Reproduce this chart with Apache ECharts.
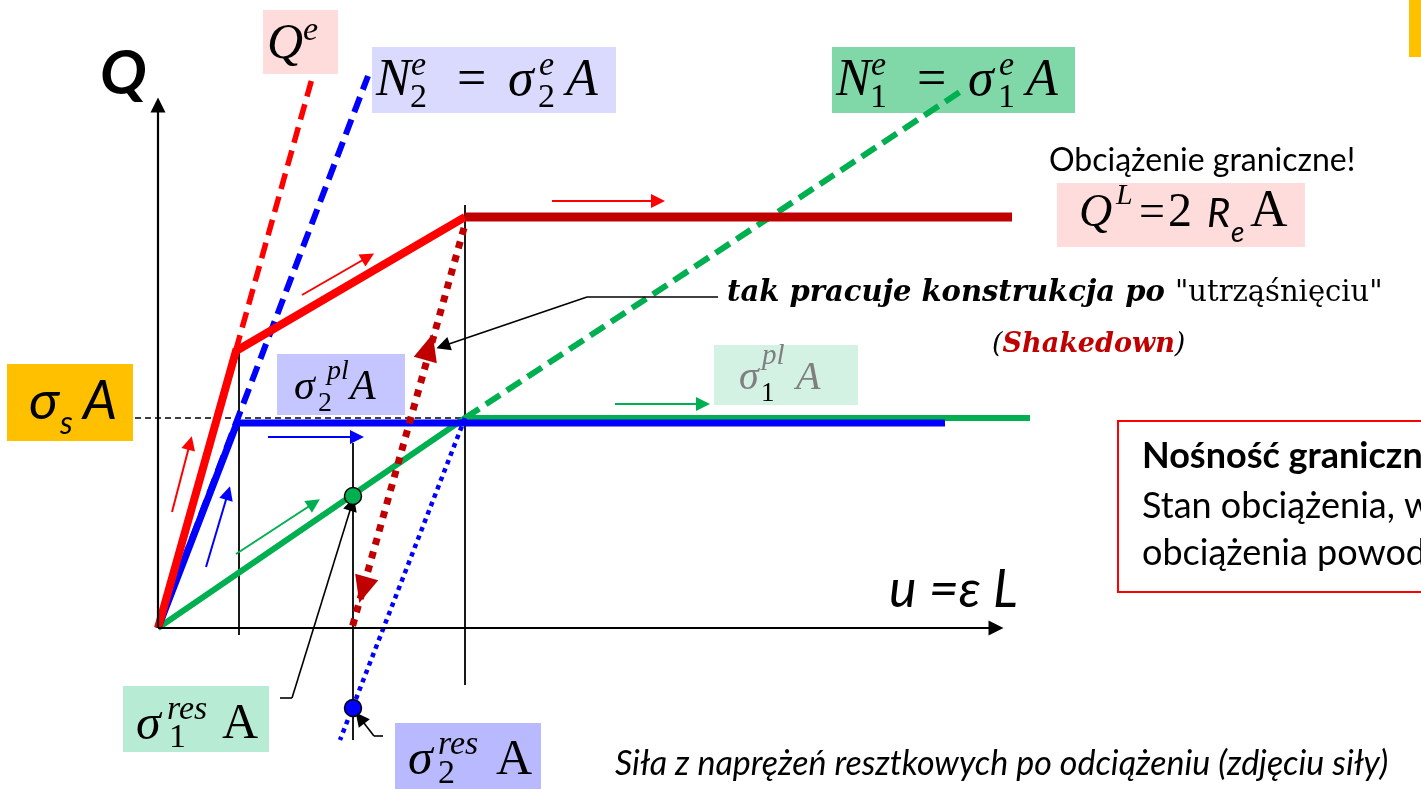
<!DOCTYPE html>
<html><head><meta charset="utf-8">
<script src="https://cdn.jsdelivr.net/npm/echarts@6/dist/echarts.min.js"></script>
<style>html,body{margin:0;padding:0;background:#fff}#c{width:1421px;height:789px}</style>
</head><body><div id="c"></div>
<script>
// ---- data, in diagram units (u to the right, Q upwards, origin at axes crossing) ----
const redLoading   = [[0,0],[78,277],[307,411]];        // Q(u), both bars elastic then bar 2 plastic
const redLimit     = [[307,411],[854,411]];             // limit load Q^L
const blueBar2     = [[0,0],[79,205],[787,205]];        // N2
const greenBar1    = [[0,0],[307,210],[872,210]];       // N1
const redElastic   = [[0,0],[155,553]];                 // Q^e
const blueElastic  = [[0,0],[210,552]];                 // N2^e
const greenElastic = [[307,210],[808,540]];             // N1^e
const blueUnload   = [[307,210],[182,-112]];
const redUnload    = [[306,400],[194,0]];
const yieldLevel   = [[-23,210],[307,210]];             // sigma_s A
const guides       = [[[81,293],[81,-7]], [[307,423],[307,-57]], [[195,185],[195,-112]]];
const residualN1   = [195,132];
const residualN2   = [195,-80];
const axisQ        = [[0,0],[0,523]];
const axisU        = [[0,0],[838,0]];
const redArrows    = [[[14,116],[32,185]], [[144,333],[210,371]], [[394,427],[500,427]]];
const blueArrows   = [[[48,61],[70,135]], [[110,191],[199,191]]];
const greenArrows  = [[[78,74],[156,125]], [[457,224],[545,224]]];
const unloadHeads  = [[205,38,164],[271,281,-16]];      // [u, Q, direction deg]
const leaderPaths  = [[[560,331],[429,331]], [[122,-70],[134,-70]], [[225,-108],[216,-108]]];
const leaderHeads  = [[[429,331],[285,282]], [[134,-70],[194,124]], [[216,-108],[202,-90]]];

const SERIF = '"Liberation Serif","DejaVu Serif",serif';
const DSERIF = '"DejaVu Serif","Liberation Serif",serif';
const SANS = 'Lato,"Noto Sans","DejaVu Sans",sans-serif';

const chart = echarts.init(document.getElementById('c'), null, {renderer:'canvas', width:1421, height:789});

function path(data, color, width, type, z) {
  return {type:'line', data, showSymbol:false, symbol:'none', clip:false, silent:true, z, animation:false,
    lineStyle:{color, width, type:type||'solid', cap:'butt', join:'miter'}};
}
function arrows(segs, color, width, size, z) {
  return {type:'lines', coordinateSystem:'cartesian2d', z, silent:true, animation:false,
    symbol:['none','triangle'], symbolSize:size,
    lineStyle:{color, width, opacity:1, curveness:0}, data:segs.map(c=>({coords:c}))};
}
function txt(x, base, text, size, family, o) {
  o = o || {};
  const k = family === SANS ? 0.39 : 0.34;
  return {type:'text', x, y: base - k*size, z:10, silent:true,
    style:{text, fontSize:size, fontFamily:family, fontStyle:o.i?'italic':'normal',
      fontWeight:o.b?'bold':'normal', fill:o.c||'#000', verticalAlign:'middle', align:'left'}};
}
function box(x,y,w,h,fill) {
  return {type:'rect', z:1, silent:true, shape:{x,y,width:w,height:h}, style:{fill}};
}
function nLabel(dx, idx) {
  return [
    txt(376+dx, 99, 'N', 52, SERIF, {i:1}),
    txt(411+dx, 78, 'e', 34, SERIF, {i:1}),
    txt(410+dx, 110, idx, 34, SERIF),
    txt(457+dx, 99, '=', 52, SERIF),
    txt(508+dx, 99, 'σ', 52, SERIF, {i:1}),
    txt(539+dx, 78, 'e', 34, SERIF, {i:1}),
    txt(538+dx, 110, idx, 34, SERIF),
    txt(566+dx, 99, 'A', 52, SERIF, {i:1})
  ];
}

const graphic = [
  box(263,10,75,64,'#FFDCDC'),
  box(372,47,244,66,'#DADAFF'),
  box(832,47,243,66,'#80D8A8'),
  box(1057,183,248,64,'#FFDCDC'),
  box(7,364,126,77,'#FFC000'),
  box(277,354,128,61,'#C5C5FF'),
  box(714,345,144,60,'#D4F2E3'),
  box(123,686,146,66,'#B8EBD4'),
  box(395,723,146,66,'#B9B9FF'),
  box(1409,0,12,57,'#FFC000'),
  {type:'rect', z:1, silent:true, shape:{x:1118,y:421,width:420,height:171}, style:{fill:'none', stroke:'#FF0000', lineWidth:2}},
  // axis names
  txt(100, 98, 'Q', 62, SANS, {i:1,b:1}),
  txt(889, 611, 'u =ε L', 52, SANS, {i:1}),
  // Q^e
  txt(267, 62, 'Q', 50, SERIF, {i:1}),
  txt(303, 43, 'e', 34, SERIF, {i:1}),
  ...nLabel(0,'2'),
  ...nLabel(460,'1'),
  // sigma_s A
  txt(29, 423, 'σ', 54, SANS, {i:1}),
  txt(60, 436, 's', 32, SANS, {i:1}),
  txt(83, 423, 'A', 54, SANS, {i:1}),
  // sigma_2^pl A
  txt(294, 402, 'σ', 42, SERIF, {i:1}),
  txt(327, 381, 'pl', 28, SERIF, {i:1}),
  txt(318, 413, '2', 28, SERIF),
  txt(350, 402, 'A', 42, SERIF, {i:1}),
  // sigma_1^pl A (faded)
  txt(739, 392, 'σ', 40, SERIF, {i:1, c:'#7f7f7f'}),
  txt(762, 366, 'pl', 29, SERIF, {i:1, c:'#7f7f7f'}),
  txt(761, 403, '1', 27, SERIF),
  txt(796, 392, 'A', 40, SERIF, {i:1, c:'#7f7f7f'}),
  // sigma_1^res A
  txt(136, 743, 'σ', 50, SERIF, {i:1}),
  txt(167, 722, 'res', 34, SERIF, {i:1}),
  txt(169, 750, '1', 34, SERIF),
  txt(222, 742, 'A', 50, SERIF),
  // sigma_2^res A
  txt(408, 778, 'σ', 50, SERIF, {i:1}),
  txt(438, 757, 'res', 34, SERIF, {i:1}),
  txt(438, 786, '2', 34, SERIF),
  txt(496, 778, 'A', 50, SERIF),
  // Q^L = 2 R_e A
  txt(1049, 173, 'Obciążenie graniczne!', 32, SANS),
  txt(1079, 230, 'Q', 46, SERIF, {i:1}),
  txt(1116, 206, 'L', 30, SERIF, {i:1}),
  txt(1139, 230, '=', 46, SERIF),
  txt(1168, 230, '2', 48, SERIF),
  txt(1207, 230, 'R', 40, SANS, {i:1}),
  txt(1231, 244, 'e', 28, SANS, {i:1}),
  txt(1250, 230, 'A', 52, SERIF),
  // shakedown text
  {type:'text', x:727, y:304-0.346*29, z:10, silent:true, style:{
    text:'{b|tak pracuje konstrukcja po }{r|"utrząśnięciu"}', verticalAlign:'middle', align:'left',
    rich:{b:{fontFamily:DSERIF, fontSize:29, fontStyle:'italic', fontWeight:'bold', fill:'#000'},
          r:{fontFamily:DSERIF, fontSize:29, fill:'#000'}}}},
  {type:'text', x:992, y:354-0.346*27, z:10, silent:true, style:{
    text:'{p|(}{s|Shakedown}{p|)}', verticalAlign:'middle', align:'left',
    rich:{p:{fontFamily:DSERIF, fontSize:27, fontStyle:'italic', fill:'#000'},
          s:{fontFamily:DSERIF, fontSize:27, fontStyle:'italic', fontWeight:'bold', fill:'#C00000'}}}},
  // limit capacity box
  txt(1142, 470, 'Nośność graniczna', 36, SANS, {b:1}),
  txt(1142, 520, 'Stan obciążenia, w którym przyrost', 36, SANS),
  txt(1142, 567, 'obciążenia powoduje nieograniczony', 36, SANS),
  txt(615, 777, 'Siła z naprężeń resztkowych po odciążeniu (zdjęciu siły)', 34, SANS, {i:1})
];

const series = [
  path(guides[0], '#000', 1.8, 'solid', 2),
  path(guides[1], '#000', 1.8, 'solid', 2),
  path(guides[2], '#000', 1.8, 'solid', 2),
  path(yieldLevel, '#000', 1.6, [6,4], 2),
  path(blueElastic, '#0000FF', 6, [16,8], 3),
  path(redElastic, '#FF0000', 5.5, [16,8], 3),
  path(greenElastic, '#00B050', 6, [17,8], 3),
  path(greenBar1, '#00B050', 6, 'solid', 4),
  path(blueBar2, '#0000FF', 7, 'solid', 4),
  path(redLoading, '#FF0000', 8, 'solid', 5),
  path(redLimit, '#C00000', 9, 'solid', 5),
  path(blueUnload, '#0000FF', 4.5, [4.5,4.5], 6),
  path(redUnload, '#C00000', 7, [7,7], 6),
  arrows([axisQ, axisU], '#000', 2.2, [0,15], 7),
  arrows(redArrows, '#FF0000', 2, [0,14], 7),
  arrows(blueArrows, '#0000FF', 2, [0,14], 7),
  arrows(greenArrows, '#00B050', 2, [0,14], 7),
  path(leaderPaths[0], '#000', 1.6, 'solid', 7),
  path(leaderPaths[1], '#000', 1.6, 'solid', 7),
  path(leaderPaths[2], '#000', 1.6, 'solid', 7),
  arrows(leaderHeads, '#000', 1.6, [0,14], 7),
  {type:'scatter', z:8, silent:true, animation:false, symbol:'triangle', symbolSize:[24,27],
    data: unloadHeads.map(d=>({value:[d[0],d[1]], symbolRotate:d[2]})), itemStyle:{color:'#C00000', opacity:1}},
  {type:'scatter', z:9, silent:true, animation:false, symbolSize:17,
    data:[{value:residualN1, itemStyle:{color:'#00B050'}}, {value:residualN2, itemStyle:{color:'#0000FF'}}],
    itemStyle:{borderColor:'#000', borderWidth:1.5, opacity:1}}
];

chart.setOption({
  animation:false,
  backgroundColor:'#fff',
  grid:{left:0, right:0, top:0, bottom:0},
  xAxis:{type:'value', min:-158, max:1263, show:false},
  yAxis:{type:'value', min:-161, max:628, show:false},
  graphic,
  series
});
</script></body></html>
